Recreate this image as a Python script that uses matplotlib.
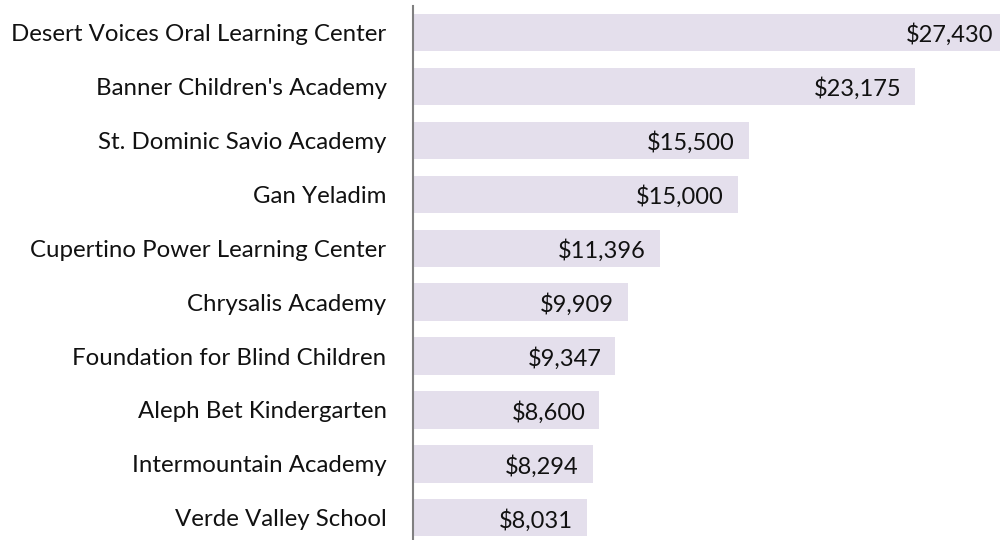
import matplotlib
matplotlib.use("Agg")
import matplotlib.pyplot as plt

categories = ["Desert Voices Oral Learning Center", "Banner Children's Academy",
              "St. Dominic Savio Academy", "Gan Yeladim",
              "Cupertino Power Learning Center", "Chrysalis Academy",
              "Foundation for Blind Children", "Aleph Bet Kindergarten",
              "Intermountain Academy", "Verde Valley School"]
values = [27430, 23175, 15500, 15000, 11396, 9909, 9347, 8600, 8294, 8031]
labels = ["$27,430", "$23,175", "$15,500", "$15,000", "$11,396", "$9,909",
          "$9,347", "$8,600", "$8,294", "$8,031"]

plt.rcParams['font.family'] = ['Lato', 'DejaVu Sans']

fig = plt.figure(figsize=(10, 5.4), dpi=100)
ax = fig.add_axes([0.413, 0.0, 0.587, 0.989])

pos = list(range(len(categories)))
ax.barh(pos, values, height=0.69, color="#E4DFEC", zorder=2)
ax.set_ylim(9.41, -0.49)
ax.set_xlim(0, 27100)

for p, v, l in zip(pos, values, labels):
    ax.text(v - 640, p + 0.04, l, ha="right", va="center", fontsize=17,
            color="#111111", clip_on=False)

ax.set_yticks(pos)
ax.set_yticklabels(categories, fontsize=17.3, color="#111111")
for t in ax.get_yticklabels():
    t.set_y(t.get_position()[1])
ax.tick_params(axis="y", length=0, pad=19)
ax.set_xticks([])
for s in ["top", "right", "bottom"]:
    ax.spines[s].set_visible(False)
ax.spines["left"].set_color("#808080")
ax.spines["left"].set_linewidth(1.5)

fig.savefig("out.png", dpi=100)
